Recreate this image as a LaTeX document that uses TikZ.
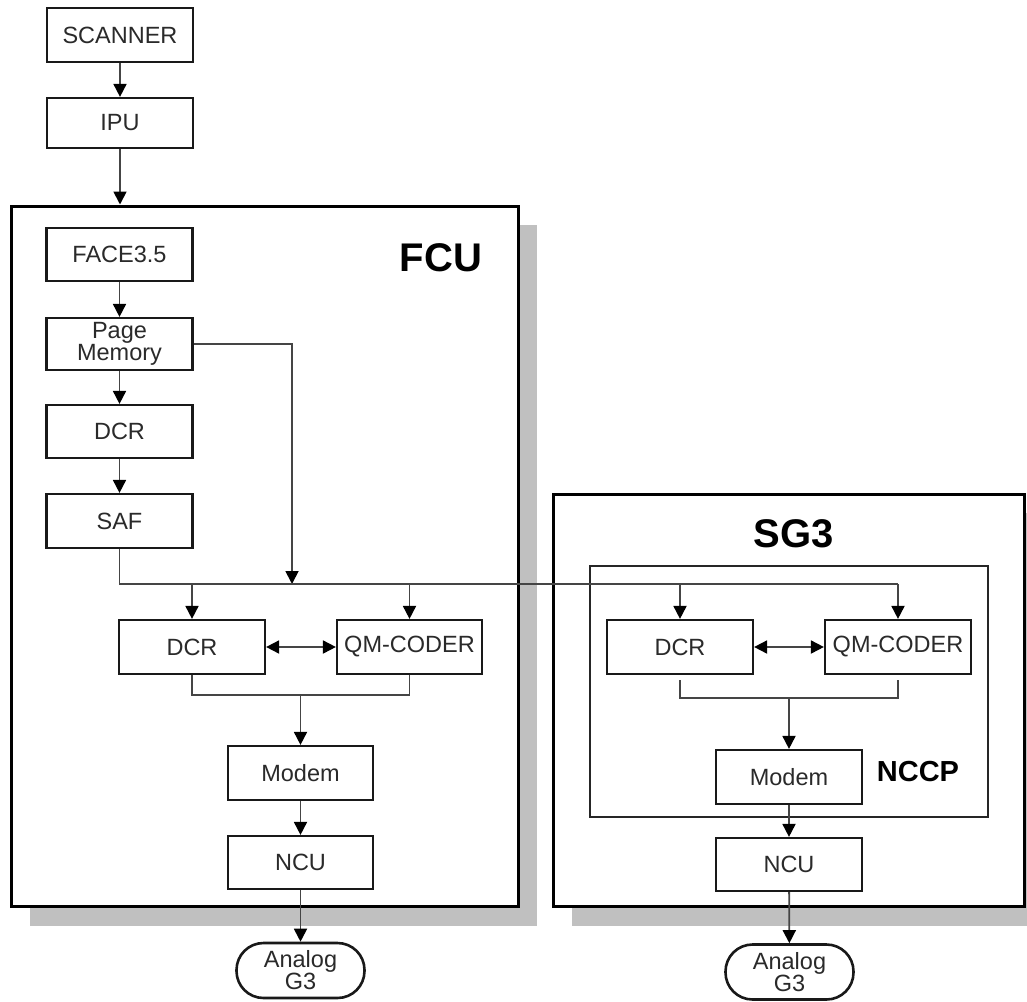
\documentclass[tikz,border=0pt]{standalone}
\usepackage{fontspec}
\setmainfont{Liberation Sans}
\usetikzlibrary{arrows.meta}
\definecolor{shadowc}{HTML}{C0C0C0}
\definecolor{linec}{HTML}{454545}
\definecolor{txtc}{HTML}{2A2A2A}
\begin{document}
\begin{tikzpicture}[x=1pt,y=-1pt,
  blk/.style={draw=black!90, line width=2.2pt, fill=white, minimum width=146pt, minimum height=53pt,
    inner sep=0pt, font=\fontsize{23.5}{22}\selectfont, text=txtc, align=center},
  term/.style={blk, line width=2.6pt, minimum width=128pt, minimum height=55pt, rounded corners=27pt},
  big/.style={draw=black, line width=3pt, fill=white, inner sep=0pt},
  inner/.style={draw=black!85, line width=2.5pt, inner sep=0pt},
  conn/.style={draw=linec, line width=1.8pt},
  tip/.tip={Triangle[length=13pt,width=13pt,color=black]},
  arr/.style={conn, -tip},
  biarr/.style={conn, tip-tip},
  title/.style={font=\fontsize{40}{40}\selectfont\bfseries, text=black, inner sep=0pt}]
\useasboundingbox (0,0) rectangle (1027,1001);

% shadows
\fill[shadowc] (30,225) rectangle (537,926);
\fill[shadowc] (572,513) rectangle (1027,926);

% big containers
\node[big, minimum width=507pt, minimum height=700pt] (fcu) at (264.5,556) {};
\node[big, minimum width=471pt, minimum height=412pt] (sg3) at (788.5,700) {};
\node[inner, minimum width=398pt, minimum height=251pt] (nccp) at (789,691.5) {};

\node[title] (fcul) at (441,258) {FCU};
\node[title] (sg3l) at (794,534) {SG3};
\node[title, font=\fontsize{29}{29}\selectfont\bfseries] (nccpl) at (918,772) {NCCP};

% top chain
\node[blk, minimum height=54pt] (scan) at (120,35) {SCANNER};
\node[blk, minimum height=50pt] (ipu) at (120,123) {IPU};

% FCU contents
\node[blk] (face) at (119.5,254.5) {FACE3.5};
\node[blk, minimum height=52pt] (pm) at (119.5,344) {Page\\Memory};
\node[blk] (dcr1) at (119.5,431.5) {DCR};
\node[blk, minimum height=54pt] (saf) at (119.5,521) {SAF};
\node[blk, minimum height=54pt] (dcr2) at (192,647) {DCR};
\node[blk, minimum height=54pt, minimum width=145pt] (qm2) at (409.5,647) {QM-CODER};
\node[blk, minimum height=54pt, minimum width=145pt] (mod1) at (300.5,773) {Modem};
\node[blk, minimum width=145pt] (ncu1) at (300.5,862.5) {NCU};
\node[term] (an1) at (300.5,970.5) {Analog\\G3};

% SG3 contents
\node[blk, minimum height=54pt] (dcr3) at (680,647) {DCR};
\node[blk, minimum height=54pt] (qm3) at (898,647) {QM-CODER};
\node[blk, minimum height=54pt] (mod3) at (789,777) {Modem};
\node[blk] (ncu3) at (789,864.5) {NCU};
\node[term] (an3) at (789.5,972) {Analog\\G3};

% helper coordinates
\coordinate (bus) at (0,584);
\coordinate (pmd) at (292,584);
\coordinate (mrg1) at (0,695);
\coordinate (mrg2) at (0,698);

% connectors
\draw[arr] (scan) -- (ipu);
\draw[arr] (ipu) -- (ipu.south |- fcu.north);
\draw[arr] (face) -- (pm);
\draw[arr] (pm) -- (dcr1);
\draw[arr] (dcr1) -- (saf);
\draw[arr] (pm.east) -| (pmd);
\draw[conn] (saf.south) |- (qm3.north |- bus);
\draw[arr] (dcr2.north |- bus) -- (dcr2.north);
\draw[arr] (qm2.north |- bus) -- (qm2.north);
\draw[arr] (dcr3.north |- bus) -- (dcr3.north);
\draw[arr] (qm3.north |- bus) -- (qm3.north);
\draw[biarr] (dcr2) -- (qm2);
\draw[biarr] (dcr3) -- (qm3);
\draw[conn] (dcr2.south) -- (dcr2.south |- mrg1) -| (qm2.south);
\draw[arr] (mod1.north |- mrg1) -- (mod1.north);
\draw[conn] ([yshift=-5pt]dcr3.south) -- (dcr3.south |- mrg2) -| ([yshift=-5pt]qm3.south);
\draw[arr] (mod3.north |- mrg2) -- (mod3.north);
\draw[arr] (mod1) -- (ncu1);
\draw[arr] (ncu1) -- (an1);
\draw[arr] (mod3) -- (ncu3);
\draw[arr] (ncu3) -- (an3);
\end{tikzpicture}
\end{document}
